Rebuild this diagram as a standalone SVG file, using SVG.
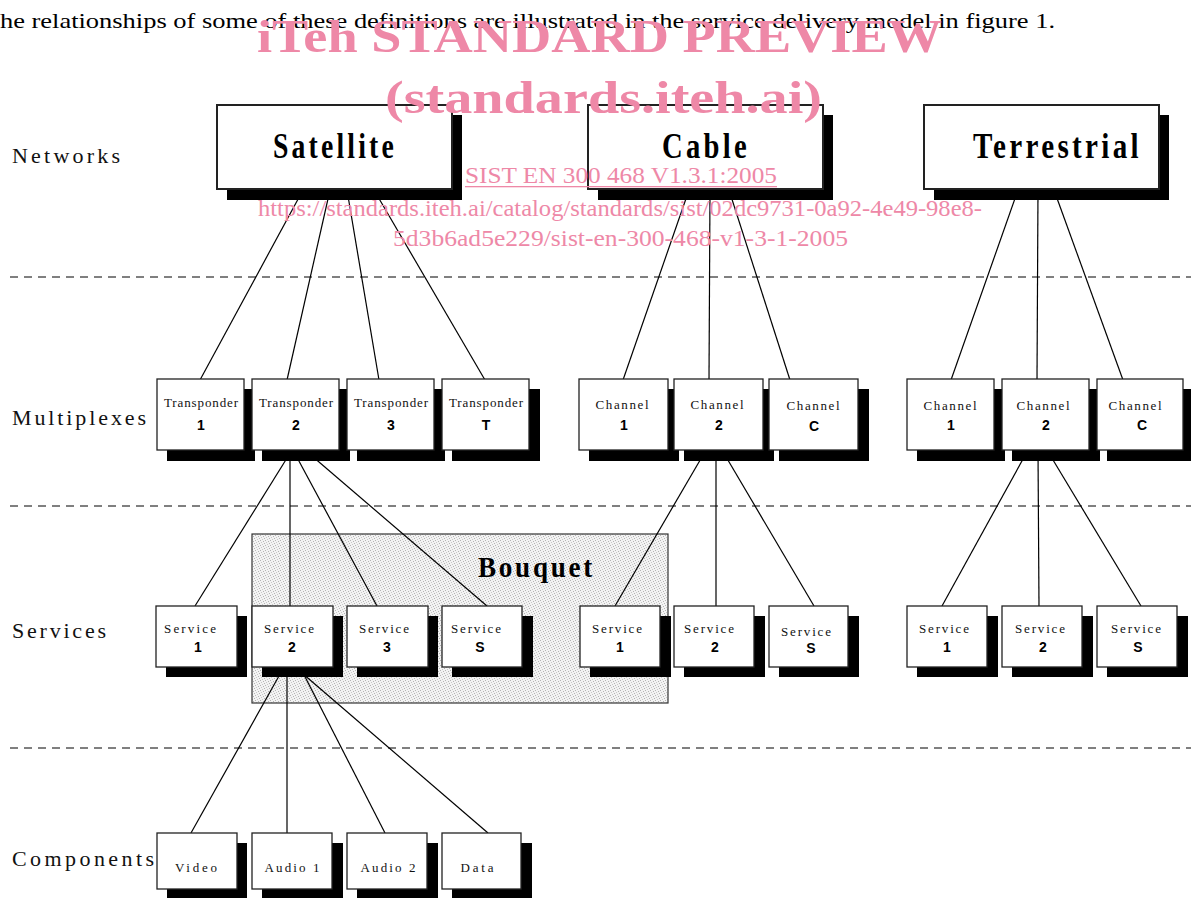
<svg xmlns="http://www.w3.org/2000/svg" width="1191" height="898" viewBox="0 0 1191 898">
<defs>
<pattern id="stip" width="5" height="5" patternUnits="userSpaceOnUse">
<rect width="5" height="5" fill="#f3f3f3"/>
<rect x="0" y="0" width="1" height="1" fill="#b4b4b4"/>
<rect x="3" y="1" width="1" height="1" fill="#b4b4b4"/>
<rect x="1" y="2" width="1" height="1" fill="#c8c8c8"/>
<rect x="4" y="3" width="1" height="1" fill="#b4b4b4"/>
<rect x="2" y="4" width="1" height="1" fill="#c8c8c8"/>
</pattern>
</defs>
<style>
.sh{fill:#000}
.bx{fill:#fff;stroke:#222;stroke-width:1.3}
.nbx{fill:#fff;stroke:#222;stroke-width:2}
.net{font-family:"Liberation Serif",serif;font-weight:bold;font-size:35px;fill:#000}
.lbl{font-family:"Liberation Serif",serif;font-size:13px;fill:#111;text-anchor:middle}
.num{font-family:"Liberation Sans",Arial,sans-serif;font-weight:bold;font-size:14px;fill:#000;text-anchor:middle}
.row{font-family:"Liberation Serif",serif;font-size:22px;fill:#111}
.conn line{stroke:#000;stroke-width:1.2}
.dash{stroke:#000;stroke-width:1;stroke-dasharray:8 6}
.wm{fill:#ee88a7;font-family:"Liberation Serif",serif}
.wmb{font-weight:bold;font-size:46px}
.wms{font-size:24px}
</style>
<rect width="1191" height="898" fill="#fff"/>
<text x="0" y="28" font-family="Liberation Serif,serif" font-size="22" fill="#000" textLength="1055" lengthAdjust="spacingAndGlyphs">he relationships of some of these definitions are illustrated in the service delivery model in figure 1.</text>

<g id="row-labels">
<text class="row" x="12" y="163" textLength="108" lengthAdjust="spacing">Networks</text>
<text class="row" x="12" y="425" textLength="134" lengthAdjust="spacing">Multiplexes</text>
<text class="row" x="12" y="638" textLength="94" lengthAdjust="spacing">Services</text>
<text class="row" x="12" y="866" textLength="142" lengthAdjust="spacing">Components</text>
</g>

<g id="separators">
<line class="dash" x1="10" y1="277" x2="1191" y2="277"/>
<line class="dash" x1="10" y1="506" x2="1191" y2="506"/>
<line class="dash" x1="10" y1="748" x2="1191" y2="748"/>
</g>

<g id="bouquet">
<rect x="252" y="534" width="416" height="169" fill="url(#stip)" stroke="#333" stroke-width="1.2"/>
<text x="478" y="577" font-family="Liberation Serif,serif" font-weight="bold" font-size="30" letter-spacing="3" fill="#000" textLength="117" lengthAdjust="spacingAndGlyphs">Bouquet</text>
</g>

<g id="connectors" class="conn">
<line x1="303" y1="190" x2="200" y2="380"/>
<line x1="330" y1="190" x2="287" y2="380"/>
<line x1="347" y1="190" x2="379" y2="380"/>
<line x1="374" y1="190" x2="485" y2="380"/>
<line x1="689" y1="190" x2="623" y2="380"/>
<line x1="710" y1="190" x2="709" y2="380"/>
<line x1="729" y1="190" x2="790" y2="380"/>
<line x1="1018" y1="190" x2="951" y2="380"/>
<line x1="1038" y1="190" x2="1037" y2="380"/>
<line x1="1054" y1="190" x2="1123" y2="380"/>
<line x1="292" y1="450" x2="195" y2="606"/>
<line x1="290" y1="450" x2="290" y2="606"/>
<line x1="293" y1="450" x2="377" y2="606"/>
<line x1="305" y1="450" x2="487" y2="606"/>
<line x1="706" y1="450" x2="615" y2="606"/>
<line x1="716" y1="450" x2="716" y2="606"/>
<line x1="722" y1="450" x2="814" y2="606"/>
<line x1="1028" y1="450" x2="942" y2="606"/>
<line x1="1038" y1="450" x2="1039" y2="606"/>
<line x1="1047" y1="450" x2="1141" y2="606"/>
<line x1="284" y1="667" x2="191" y2="833"/>
<line x1="287" y1="667" x2="287" y2="833"/>
<line x1="300" y1="667" x2="385" y2="833"/>
<line x1="295" y1="667" x2="488" y2="833"/>
</g>

<!-- Networks -->
<g id="net-satellite">
<rect class="sh" x="227" y="115" width="235" height="85"/>
<rect class="nbx" x="217" y="105" width="235" height="84"/>
<text class="net" x="273" y="158" letter-spacing="4" textLength="124" lengthAdjust="spacingAndGlyphs">Satellite</text>
</g>
<g id="net-cable">
<rect class="sh" x="598" y="115" width="235" height="85"/>
<rect class="nbx" x="588" y="105" width="235" height="84"/>
<text class="net" x="662" y="158" letter-spacing="4" textLength="88" lengthAdjust="spacingAndGlyphs">Cable</text>
</g>
<g id="net-terrestrial">
<rect class="sh" x="934" y="115" width="235" height="85"/>
<rect class="nbx" x="924" y="105" width="235" height="84"/>
<text class="net" x="973" y="158" letter-spacing="4" textLength="169" lengthAdjust="spacingAndGlyphs">Terrestrial</text>
</g>

<!-- Multiplexes -->
<g id="mux-transponder-1">
<rect class="sh" x="167" y="389" width="88" height="72"/>
<rect class="bx" x="157" y="379" width="87" height="71"/>
<text class="lbl" x="201" y="407" textLength="74" lengthAdjust="spacing">Transponder</text>
<text class="num" x="201" y="430">1</text>
</g>
<g id="mux-transponder-2">
<rect class="sh" x="262" y="389" width="88" height="72"/>
<rect class="bx" x="252" y="379" width="87" height="71"/>
<text class="lbl" x="296" y="407" textLength="74" lengthAdjust="spacing">Transponder</text>
<text class="num" x="296" y="430">2</text>
</g>
<g id="mux-transponder-3">
<rect class="sh" x="357" y="389" width="88" height="72"/>
<rect class="bx" x="347" y="379" width="87" height="71"/>
<text class="lbl" x="391" y="407" textLength="74" lengthAdjust="spacing">Transponder</text>
<text class="num" x="391" y="430">3</text>
</g>
<g id="mux-transponder-t">
<rect class="sh" x="452" y="389" width="88" height="72"/>
<rect class="bx" x="442" y="379" width="87" height="71"/>
<text class="lbl" x="486" y="407" textLength="74" lengthAdjust="spacing">Transponder</text>
<text class="num" x="486" y="430">T</text>
</g>
<g id="mux-cable-channel-1">
<rect class="sh" x="589" y="389" width="90" height="72"/>
<rect class="bx" x="579" y="379" width="89" height="71"/>
<text class="lbl" x="622" y="409" textLength="53" lengthAdjust="spacing">Channel</text>
<text class="num" x="624" y="430">1</text>
</g>
<g id="mux-cable-channel-2">
<rect class="sh" x="684" y="389" width="90" height="72"/>
<rect class="bx" x="674" y="379" width="89" height="71"/>
<text class="lbl" x="717" y="409" textLength="53" lengthAdjust="spacing">Channel</text>
<text class="num" x="719" y="430">2</text>
</g>
<g id="mux-cable-channel-c">
<rect class="sh" x="779" y="389" width="90" height="72"/>
<rect class="bx" x="769" y="379" width="89" height="71"/>
<text class="lbl" x="813" y="410" textLength="53" lengthAdjust="spacing">Channel</text>
<text class="num" x="814" y="431">C</text>
</g>
<g id="mux-terr-channel-1">
<rect class="sh" x="917" y="389" width="88" height="72"/>
<rect class="bx" x="907" y="379" width="87" height="71"/>
<text class="lbl" x="950" y="410" textLength="53" lengthAdjust="spacing">Channel</text>
<text class="num" x="951" y="430">1</text>
</g>
<g id="mux-terr-channel-2">
<rect class="sh" x="1012" y="389" width="88" height="72"/>
<rect class="bx" x="1002" y="379" width="87" height="71"/>
<text class="lbl" x="1043" y="410" textLength="53" lengthAdjust="spacing">Channel</text>
<text class="num" x="1046" y="430">2</text>
</g>
<g id="mux-terr-channel-c">
<rect class="sh" x="1107" y="389" width="88" height="72"/>
<rect class="bx" x="1097" y="379" width="86" height="71"/>
<text class="lbl" x="1135" y="410" textLength="53" lengthAdjust="spacing">Channel</text>
<text class="num" x="1142" y="430">C</text>
</g>

<!-- Services -->
<g id="svc-sat-1">
<rect class="sh" x="166" y="616" width="81" height="61"/>
<rect class="bx" x="156" y="606" width="81" height="61"/>
<text class="lbl" x="190" y="633" textLength="52" lengthAdjust="spacing">Service</text>
<text class="num" x="198" y="652">1</text>
</g>
<g id="svc-sat-2">
<rect class="sh" x="262" y="616" width="81" height="61"/>
<rect class="bx" x="252" y="606" width="81" height="61"/>
<text class="lbl" x="289" y="633" textLength="50" lengthAdjust="spacing">Service</text>
<text class="num" x="292" y="652">2</text>
</g>
<g id="svc-sat-3">
<rect class="sh" x="357" y="616" width="81" height="61"/>
<rect class="bx" x="347" y="606" width="81" height="61"/>
<text class="lbl" x="384" y="633" textLength="50" lengthAdjust="spacing">Service</text>
<text class="num" x="387" y="652">3</text>
</g>
<g id="svc-sat-s">
<rect class="sh" x="452" y="616" width="81" height="61"/>
<rect class="bx" x="442" y="606" width="80" height="61"/>
<text class="lbl" x="476" y="633" textLength="50" lengthAdjust="spacing">Service</text>
<text class="num" x="480" y="652">S</text>
</g>
<g id="svc-cable-1">
<rect class="sh" x="590" y="616" width="81" height="61"/>
<rect class="bx" x="580" y="606" width="80" height="61"/>
<text class="lbl" x="617" y="633" textLength="50" lengthAdjust="spacing">Service</text>
<text class="num" x="620" y="652">1</text>
</g>
<g id="svc-cable-2">
<rect class="sh" x="684" y="616" width="81" height="61"/>
<rect class="bx" x="674" y="606" width="80" height="61"/>
<text class="lbl" x="709" y="633" textLength="50" lengthAdjust="spacing">Service</text>
<text class="num" x="715" y="652">2</text>
</g>
<g id="svc-cable-s">
<rect class="sh" x="779" y="616" width="80" height="61"/>
<rect class="bx" x="769" y="606" width="79" height="61"/>
<text class="lbl" x="806" y="636" textLength="50" lengthAdjust="spacing">Service</text>
<text class="num" x="811" y="653">S</text>
</g>
<g id="svc-terr-1">
<rect class="sh" x="917" y="616" width="81" height="61"/>
<rect class="bx" x="907" y="606" width="80" height="61"/>
<text class="lbl" x="944" y="633" textLength="50" lengthAdjust="spacing">Service</text>
<text class="num" x="947" y="652">1</text>
</g>
<g id="svc-terr-2">
<rect class="sh" x="1012" y="616" width="81" height="61"/>
<rect class="bx" x="1002" y="606" width="80" height="61"/>
<text class="lbl" x="1040" y="633" textLength="50" lengthAdjust="spacing">Service</text>
<text class="num" x="1043" y="652">2</text>
</g>
<g id="svc-terr-s">
<rect class="sh" x="1107" y="616" width="81" height="61"/>
<rect class="bx" x="1097" y="606" width="80" height="61"/>
<text class="lbl" x="1136" y="633" textLength="50" lengthAdjust="spacing">Service</text>
<text class="num" x="1138" y="652">S</text>
</g>

<!-- Components -->
<g id="comp-video">
<rect class="sh" x="167" y="843" width="80" height="57"/>
<rect class="bx" x="157" y="833" width="80" height="56"/>
<text class="lbl" x="196" y="872" textLength="42" lengthAdjust="spacing">Video</text>
</g>
<g id="comp-audio-1">
<rect class="sh" x="262" y="843" width="81" height="57"/>
<rect class="bx" x="252" y="833" width="80" height="56"/>
<text class="lbl" x="292" y="872" textLength="55" lengthAdjust="spacing">Audio 1</text>
</g>
<g id="comp-audio-2">
<rect class="sh" x="357" y="843" width="81" height="57"/>
<rect class="bx" x="347" y="833" width="80" height="56"/>
<text class="lbl" x="388" y="872" textLength="55" lengthAdjust="spacing">Audio 2</text>
</g>
<g id="comp-data">
<rect class="sh" x="452" y="843" width="80" height="57"/>
<rect class="bx" x="442" y="833" width="79" height="56"/>
<text class="lbl" x="477" y="872" textLength="33" lengthAdjust="spacing">Data</text>
</g>

<g id="watermark" class="wm">
<text class="wmb" x="257" y="52" textLength="685" lengthAdjust="spacingAndGlyphs">iTeh STANDARD PREVIEW</text>
<text class="wmb" x="385" y="113" textLength="437" lengthAdjust="spacingAndGlyphs">(standards.iteh.ai)</text>
<text class="wms" x="465" y="183" textLength="312" lengthAdjust="spacingAndGlyphs">SIST EN 300 468 V1.3.1:2005</text>
<rect x="465" y="186" width="312" height="1.3"/>
<text class="wms" x="258" y="216" textLength="724" lengthAdjust="spacingAndGlyphs">https://standards.iteh.ai/catalog/standards/sist/02dc9731-0a92-4e49-98e8-</text>
<text class="wms" x="393" y="246" textLength="455" lengthAdjust="spacingAndGlyphs">5d3b6ad5e229/sist-en-300-468-v1-3-1-2005</text>
</g>
</svg>
